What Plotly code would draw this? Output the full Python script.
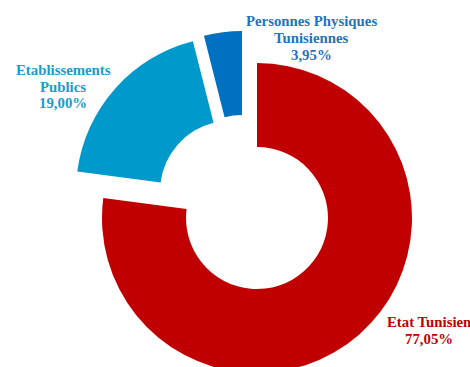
import plotly.graph_objects as go

# Répartition du capital
categories = ["Etat Tunisien", "Etablissements Publics", "Personnes Physiques Tunisiennes"]
label_lines = [["Etat Tunisien"], ["Etablissements", "Publics"], ["Personnes Physiques", "Tunisiennes"]]
shares = [77.05, 19.00, 3.95]
slice_colors = ["#C00000", "#0099CC", "#0070C0"]
text_colors = ["#C00000", "#1A9BD0", "#1F73BF"]

W, H = 470, 376
R = 155            # outer radius in px
CX, CY = 257, 218  # donut centre in px (from top-left)

# per-slice displacement (px) of the detached wedges
offsets = [(0, 0), (-26, -26.5), (-15, -32)]
# centre x and first-line y of each label block (px)
label_pos = [(428.5, 322), (63, 70), (311.5, 21.5)]
LINE_STEP = 16.7


def fmt(v):
    return f"{v:.2f}".replace(".", ",") + "%"


fig = go.Figure()
for i, name in enumerate(categories):
    dx, dy = offsets[i]
    cx, cy = CX + dx, CY + dy
    colors = ["rgba(0,0,0,0)"] * len(shares)
    colors[i] = slice_colors[i]
    fig.add_trace(go.Pie(
        labels=categories,
        values=shares,
        sort=False,
        direction="clockwise",
        rotation=0,
        hole=0.458,
        marker=dict(colors=colors, line=dict(width=0)),
        textinfo="none",
        hoverinfo="skip",
        showlegend=False,
        domain=dict(
            x=[max(0.0, (cx - R) / W), min(1.0, (cx + R) / W)],
            y=[max(0.0, 1 - (cy + R) / H), min(1.0, 1 - (cy - R) / H)],
        ),
    ))

for i, v in enumerate(shares):
    lx, ly = label_pos[i]
    lines = label_lines[i] + [fmt(v)]
    for k, line in enumerate(lines):
        fig.add_annotation(
            text=line,
            x=lx / W, y=1 - (ly + k * LINE_STEP) / H, xref="paper", yref="paper",
            xanchor="center", yanchor="middle", align="center",
            showarrow=False,
            font=dict(family="Liberation Serif", size=14.8, color=text_colors[i],
                      weight="bold"),
        )

fig.update_layout(
    width=W, height=H,
    margin=dict(l=0, r=0, t=0, b=0),
    paper_bgcolor="white",
    plot_bgcolor="white",
)

fig.write_html("out.html")
